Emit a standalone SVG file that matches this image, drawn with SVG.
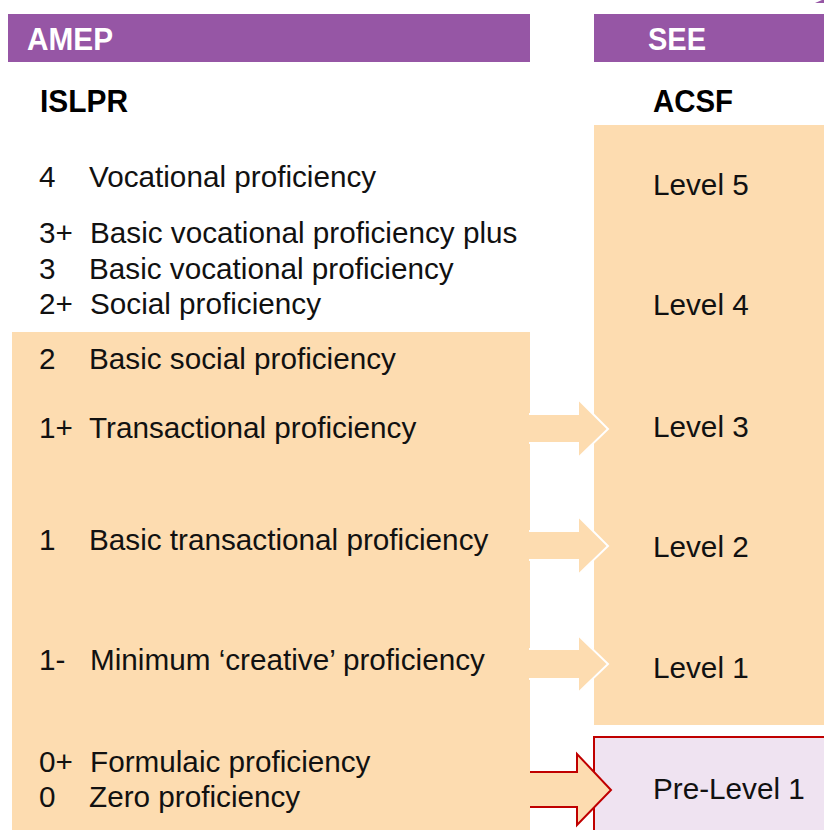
<svg xmlns="http://www.w3.org/2000/svg" width="824" height="830" viewBox="0 0 824 830">
<style>
.hdr{fill:#9656A5}
.box{fill:#FDDCB0}
.pre{fill:#EFE3F1;stroke:#C00000;stroke-width:2}
.ht{font-family:"Liberation Sans",Arial,sans-serif;font-weight:bold;font-size:31px;fill:#fff}
.st{font-family:"Liberation Sans",Arial,sans-serif;font-weight:bold;font-size:31px;fill:#000}
.t{font-family:"Liberation Sans",Arial,sans-serif;font-size:29.7px;fill:#111}
.arr{fill:#FDDCB0;stroke:#fff;stroke-width:2}
.arrR{fill:#FDDCB0;stroke:#C00000;stroke-width:2}
</style>
<rect width="824" height="830" fill="#fff"/>
<polygon points="815,3 822,0 824,0 824,3" fill="#9656A5"/>
<g id="amep-header"><rect class="hdr" x="8" y="14" width="522" height="48"/><text class="ht" x="27" y="50" textLength="86" lengthAdjust="spacingAndGlyphs">AMEP</text></g>
<g id="see-header"><rect class="hdr" x="594" y="14" width="230" height="48"/><text class="ht" x="648" y="50" textLength="58" lengthAdjust="spacingAndGlyphs">SEE</text></g>
<g id="islpr"><text class="st" x="40" y="112" textLength="88" lengthAdjust="spacingAndGlyphs">ISLPR</text></g>
<g id="acsf"><text class="st" x="653" y="112" textLength="80" lengthAdjust="spacingAndGlyphs">ACSF</text></g>
<g id="islpr-upper">
<text class="t" x="39" y="187">4</text><text class="t" x="89" y="187">Vocational proficiency</text>
<text class="t" x="39" y="243">3+</text><text class="t" x="90" y="243">Basic vocational proficiency plus</text>
<text class="t" x="39" y="279">3</text><text class="t" x="89" y="279">Basic vocational proficiency</text>
<text class="t" x="39" y="314">2+</text><text class="t" x="90" y="314">Social proficiency</text>
</g>
<g id="islpr-lower">
<rect class="box" x="12" y="332" width="518" height="498"/>
<text class="t" x="39" y="369">2</text><text class="t" x="89" y="369">Basic social proficiency</text>
<text class="t" x="39" y="438">1+</text><text class="t" x="89" y="438">Transactional proficiency</text>
<text class="t" x="39" y="550">1</text><text class="t" x="89" y="550">Basic transactional proficiency</text>
<text class="t" x="39" y="670">1-</text><text class="t" x="90" y="670">Minimum ‘creative’ proficiency</text>
<text class="t" x="39" y="772">0+</text><text class="t" x="90" y="772">Formulaic proficiency</text>
<text class="t" x="39" y="807">0</text><text class="t" x="89" y="807">Zero proficiency</text>
</g>
<g id="acsf-levels">
<rect class="box" x="594" y="125" width="230" height="600"/>
<text class="t" x="653" y="195">Level 5</text>
<text class="t" x="653" y="315">Level 4</text>
<text class="t" x="653" y="437">Level 3</text>
<text class="t" x="653" y="557">Level 2</text>
<text class="t" x="653" y="678">Level 1</text>
</g>
<g id="pre-level-1">
<rect class="pre" x="594" y="737" width="240" height="110"/>
<text class="t" x="653" y="799">Pre-Level 1</text>
</g>
<g id="connectors">
<path class="arr" d="M529,414 H578 V399 L608,429 L578,458 V443 H529"/>
<path class="arr" d="M529,531 H578 V516 L608,546 L578,575 V560 H529"/>
<path class="arr" d="M529,649 H578 V635 L608,664 L578,693 V679 H529"/>
<path class="arrR" d="M530,772 H577 V754 L611,790 L577,825 V807 H530"/>
</g>
</svg>
